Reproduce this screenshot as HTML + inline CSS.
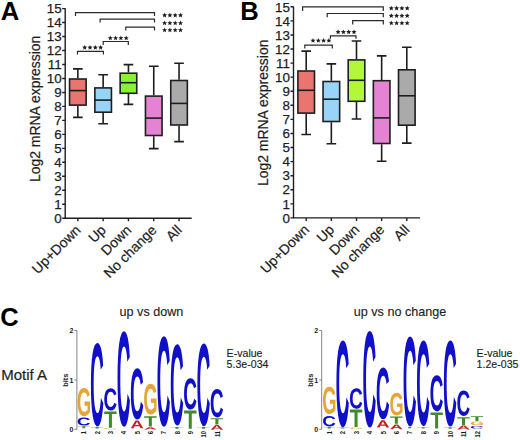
<!DOCTYPE html><html><head><meta charset="utf-8"><style>html,body{margin:0;padding:0;background:#fff;overflow:hidden}svg{display:block;font-family:"Liberation Sans",sans-serif}</style></head><body>
<svg width="520" height="440" viewBox="0 0 520 440">
<rect width="520" height="440" fill="#fff"/>
<defs>
<path id="gA" d="M1133 0 1008 360H471L346 0H51L565 1409H913L1425 0ZM739 1192 733 1170Q723 1134 709.0 1088.0Q695 1042 537 582H942L803 987L760 1123Z"/>
<path id="gC" d="M795 212Q1062 212 1166 480L1423 383Q1340 179 1179.5 79.5Q1019 -20 795 -20Q455 -20 269.5 172.5Q84 365 84 711Q84 1058 263.0 1244.0Q442 1430 782 1430Q1030 1430 1186.0 1330.5Q1342 1231 1405 1038L1145 967Q1112 1073 1015.5 1135.5Q919 1198 788 1198Q588 1198 484.5 1074.0Q381 950 381 711Q381 468 487.5 340.0Q594 212 795 212Z"/>
<path id="gG" d="M806 211Q921 211 1029.0 244.5Q1137 278 1196 330V525H852V743H1466V225Q1354 110 1174.5 45.0Q995 -20 798 -20Q454 -20 269.0 170.5Q84 361 84 711Q84 1059 270.0 1244.5Q456 1430 805 1430Q1301 1430 1436 1063L1164 981Q1120 1088 1026.0 1143.0Q932 1198 805 1198Q597 1198 489.0 1072.0Q381 946 381 711Q381 472 492.5 341.5Q604 211 806 211Z"/>
<path id="gT" d="M773 1181V0H478V1181H23V1409H1229V1181Z"/>
<polygon id="st" points="0,-2.35 0.72,-0.74 2.47,-0.55 1.16,0.63 1.53,2.35 0,1.47 -1.53,2.35 -1.16,0.63 -2.47,-0.55 -0.72,-0.74" fill="#1e1e1e"/>
</defs>
<g stroke="#1e1e1e" stroke-width="1.4" fill="none">
<path d="M65.2 8.3V218.2H191.7"/>
<path d="M62.2 218.2H65.2M62.2 204.23H65.2M62.2 190.25H65.2M62.2 176.28H65.2M62.2 162.31H65.2M62.2 148.33H65.2M62.2 134.36H65.2M62.2 120.39H65.2M62.2 106.41H65.2M62.2 92.44H65.2M62.2 78.47H65.2M62.2 64.49H65.2M62.2 50.52H65.2M62.2 36.55H65.2M62.2 22.57H65.2M62.2 8.6H65.2M77.85 218.2V221.2M103.15 218.2V221.2M128.45 218.2V221.2M153.75 218.2V221.2M179.05 218.2V221.2"/>
</g>
<g font-size="13.4" text-anchor="end" fill="#1e1e1e" stroke="#1e1e1e" stroke-width="0.25">
<text x="61.6" y="222.9">0</text>
<text x="61.6" y="208.93">1</text>
<text x="61.6" y="194.95">2</text>
<text x="61.6" y="180.98">3</text>
<text x="61.6" y="167.01">4</text>
<text x="61.6" y="153.03">5</text>
<text x="61.6" y="139.06">6</text>
<text x="61.6" y="125.09">7</text>
<text x="61.6" y="111.11">8</text>
<text x="61.6" y="97.14">9</text>
<text x="61.6" y="83.17">10</text>
<text x="61.6" y="69.19">11</text>
<text x="61.6" y="55.22">12</text>
<text x="61.6" y="41.25">13</text>
<text x="61.6" y="27.27">14</text>
<text x="61.6" y="13.3">15</text>
</g>
<text font-size="13.95" fill="#1e1e1e" stroke="#1e1e1e" stroke-width="0.2" text-anchor="middle" transform="translate(40.2,108.9) rotate(-90)">Log2 mRNA expression</text>
<g font-size="14" fill="#1e1e1e" stroke="#1e1e1e" stroke-width="0.2" text-anchor="end">
<text transform="translate(81.55,230.9) rotate(-45)">Up+Down</text>
<text transform="translate(106.85,230.9) rotate(-45)">Up</text>
<text transform="translate(132.15,230.9) rotate(-45)">Down</text>
<text transform="translate(157.45,230.9) rotate(-45)">No change</text>
<text transform="translate(182.75,230.9) rotate(-45)">All</text>
</g>
<g stroke="#1e1e1e" stroke-width="1.6">
<path d="M77.85 68.9V78.2M77.85 105.9V117.4M73.05 68.9H82.65M73.05 117.4H82.65" fill="none"/>
<rect x="69.55" y="79" width="16.6" height="26.1" fill="#ea7470"/>
<path d="M69.55 90.6H86.15" fill="none"/>
<path d="M103.15 74.7V87.1M103.15 113V123.8M98.35 74.7H107.95M98.35 123.8H107.95" fill="none"/>
<rect x="94.85" y="87.9" width="16.6" height="24.3" fill="#98d3f8"/>
<path d="M94.85 100.1H111.45" fill="none"/>
<path d="M128.45 64.6V72.4M128.45 94.1V104.4M123.65 64.6H133.25M123.65 104.4H133.25" fill="none"/>
<rect x="120.15" y="73.2" width="16.6" height="20.1" fill="#88f336"/>
<path d="M120.15 82.7H136.75" fill="none"/>
<path d="M153.75 66.2V95.3M153.75 136.3V148.6M148.95 66.2H158.55M148.95 148.6H158.55" fill="none"/>
<rect x="145.45" y="96.1" width="16.6" height="39.4" fill="#e482d4"/>
<path d="M145.45 118.1H162.05" fill="none"/>
<path d="M179.05 63.2V79.7M179.05 125.8V141.6M174.25 63.2H183.85M174.25 141.6H183.85" fill="none"/>
<rect x="170.75" y="80.5" width="16.6" height="44.5" fill="#aaaaab"/>
<path d="M170.75 103.4H187.35" fill="none"/>
</g>
<g stroke="#2a2a2a" stroke-width="1.2" fill="none">
<path d="M75.5 16V12.6H154.5V16"/>
<path d="M100.1 22.6V19.2H154.5V22.6"/>
<path d="M125.8 30.5V27.2H154.5V30.5"/>
<path d="M77.5 54.5V51.3H103.4V54.5"/>
<path d="M103.2 45V41.5H128.3V45"/>
</g>
<text x="0.7" y="19.9" font-size="25.6" font-weight="bold" fill="#000">A</text>
<use href="#st" transform="translate(164.6,15.1)"/><use href="#st" transform="translate(169.9,15.1)"/><use href="#st" transform="translate(175.2,15.1)"/><use href="#st" transform="translate(180.5,15.1)"/>
<use href="#st" transform="translate(164.6,22.9)"/><use href="#st" transform="translate(169.9,22.9)"/><use href="#st" transform="translate(175.2,22.9)"/><use href="#st" transform="translate(180.5,22.9)"/>
<use href="#st" transform="translate(164.6,29.9)"/><use href="#st" transform="translate(169.9,29.9)"/><use href="#st" transform="translate(175.2,29.9)"/><use href="#st" transform="translate(180.5,29.9)"/>
<use href="#st" transform="translate(84.7,47.3)"/><use href="#st" transform="translate(90,47.3)"/><use href="#st" transform="translate(95.3,47.3)"/><use href="#st" transform="translate(100.6,47.3)"/>
<use href="#st" transform="translate(110.3,37.9)"/><use href="#st" transform="translate(115.6,37.9)"/><use href="#st" transform="translate(120.9,37.9)"/><use href="#st" transform="translate(126.2,37.9)"/>
<g stroke="#1e1e1e" stroke-width="1.4" fill="none">
<path d="M293.5 6.5V217.9H420"/>
<path d="M290.5 217.9H293.5M290.5 203.83H293.5M290.5 189.75H293.5M290.5 175.68H293.5M290.5 161.61H293.5M290.5 147.53H293.5M290.5 133.46H293.5M290.5 119.39H293.5M290.5 105.31H293.5M290.5 91.24H293.5M290.5 77.17H293.5M290.5 63.09H293.5M290.5 49.02H293.5M290.5 34.95H293.5M290.5 20.87H293.5M290.5 6.8H293.5M306.2 217.9V220.9M331.35 217.9V220.9M356.5 217.9V220.9M381.65 217.9V220.9M406.8 217.9V220.9"/>
</g>
<g font-size="13.4" text-anchor="end" fill="#1e1e1e" stroke="#1e1e1e" stroke-width="0.25">
<text x="289.9" y="222.6">0</text>
<text x="289.9" y="208.53">1</text>
<text x="289.9" y="194.45">2</text>
<text x="289.9" y="180.38">3</text>
<text x="289.9" y="166.31">4</text>
<text x="289.9" y="152.23">5</text>
<text x="289.9" y="138.16">6</text>
<text x="289.9" y="124.09">7</text>
<text x="289.9" y="110.01">8</text>
<text x="289.9" y="95.94">9</text>
<text x="289.9" y="81.87">10</text>
<text x="289.9" y="67.79">11</text>
<text x="289.9" y="53.72">12</text>
<text x="289.9" y="39.65">13</text>
<text x="289.9" y="25.57">14</text>
<text x="289.9" y="11.5">15</text>
</g>
<text font-size="13.95" fill="#1e1e1e" stroke="#1e1e1e" stroke-width="0.2" text-anchor="middle" transform="translate(268.2,112.8) rotate(-90)">Log2 mRNA expression</text>
<g font-size="14" fill="#1e1e1e" stroke="#1e1e1e" stroke-width="0.2" text-anchor="end">
<text transform="translate(309.9,230.6) rotate(-45)">Up+Down</text>
<text transform="translate(335.05,230.6) rotate(-45)">Up</text>
<text transform="translate(360.2,230.6) rotate(-45)">Down</text>
<text transform="translate(385.35,230.6) rotate(-45)">No change</text>
<text transform="translate(410.5,230.6) rotate(-45)">All</text>
</g>
<g stroke="#1e1e1e" stroke-width="1.6">
<path d="M306.2 51.1V70.2M306.2 113.9V134.5M301.4 51.1H311M301.4 134.5H311" fill="none"/>
<rect x="297.9" y="71" width="16.6" height="42.1" fill="#ea7470"/>
<path d="M297.9 90.3H314.5" fill="none"/>
<path d="M331.35 63.9V80.7M331.35 122.3V143.7M326.55 63.9H336.15M326.55 143.7H336.15" fill="none"/>
<rect x="323.05" y="81.5" width="16.6" height="40" fill="#98d3f8"/>
<path d="M323.05 99.2H339.65" fill="none"/>
<path d="M356.5 41V59.1M356.5 102.1V119M351.7 41H361.3M351.7 119H361.3" fill="none"/>
<rect x="348.2" y="59.9" width="16.6" height="41.4" fill="#b2f73a"/>
<path d="M348.2 80.3H364.8" fill="none"/>
<path d="M381.65 55.9V79.9M381.65 144.3V161.2M376.85 55.9H386.45M376.85 161.2H386.45" fill="none"/>
<rect x="373.35" y="80.7" width="16.6" height="62.8" fill="#e482d4"/>
<path d="M373.35 117.9H389.95" fill="none"/>
<path d="M406.8 47.3V69M406.8 126V143.1M402 47.3H411.6M402 143.1H411.6" fill="none"/>
<rect x="398.5" y="69.8" width="16.6" height="55.4" fill="#aaaaab"/>
<path d="M398.5 95.8H415.1" fill="none"/>
</g>
<g stroke="#2a2a2a" stroke-width="1.2" fill="none">
<path d="M302.6 11V6.9H383.3V11"/>
<path d="M327.2 17.2V13.5H383.3V17.2"/>
<path d="M352.7 24.6V20.6H383.3V24.6"/>
<path d="M304.8 48.5V45.2H332.3V48.5"/>
<path d="M330.4 38.8V35.8H356V38.8"/>
</g>
<text x="240.3" y="20.2" font-size="25.6" font-weight="bold" fill="#000">B</text>
<use href="#st" transform="translate(391.3,8.1)"/><use href="#st" transform="translate(396.6,8.1)"/><use href="#st" transform="translate(401.9,8.1)"/><use href="#st" transform="translate(407.2,8.1)"/>
<use href="#st" transform="translate(391.3,15.6)"/><use href="#st" transform="translate(396.6,15.6)"/><use href="#st" transform="translate(401.9,15.6)"/><use href="#st" transform="translate(407.2,15.6)"/>
<use href="#st" transform="translate(391.3,22.9)"/><use href="#st" transform="translate(396.6,22.9)"/><use href="#st" transform="translate(401.9,22.9)"/><use href="#st" transform="translate(407.2,22.9)"/>
<use href="#st" transform="translate(313,40.4)"/><use href="#st" transform="translate(318.3,40.4)"/><use href="#st" transform="translate(323.6,40.4)"/><use href="#st" transform="translate(328.9,40.4)"/>
<use href="#st" transform="translate(338.1,31.8)"/><use href="#st" transform="translate(343.4,31.8)"/><use href="#st" transform="translate(348.7,31.8)"/><use href="#st" transform="translate(354,31.8)"/>
<text x="0.3" y="326.3" font-size="25.5" font-weight="bold" fill="#000">C</text>
<text x="1.2" y="379.5" font-size="15" fill="#1e1e1e" stroke="#1e1e1e" stroke-width="0.2">Motif A</text>
<g stroke="#666" stroke-width="0.8" fill="none">
<path d="M76.9 330.5V429.4"/>
<path d="M74.4 429.4H76.9M74.4 379.95H76.9M74.4 330.5H76.9"/>
</g>
<g font-size="7" font-weight="bold" fill="#222" text-anchor="end">
<text x="73.4" y="432">0</text>
<text x="73.4" y="382.55">1</text>
<text x="73.4" y="333.1">2</text>
</g>
<text font-size="7.4" font-weight="bold" fill="#222" text-anchor="middle" transform="translate(67.9,380.2) rotate(-90)">bits</text>
<use href="#gG" fill="#e6a535" transform="matrix(0.00897 0 0 -0.01952 76.85 415.91)"/>
<use href="#gC" fill="#1010c8" transform="matrix(0.00926 0 0 -0.00559 76.82 425.49)"/>
<use href="#gT" fill="#3f8a2c" transform="matrix(0.01028 0 0 -0.00142 77.36 428.3)"/>
<text font-size="7.2" font-weight="bold" fill="#1a1a1a" text-anchor="end" transform="translate(86.4,431) rotate(-90) scale(0.8,1)">1</text>
<use href="#gC" fill="#1010c8" transform="matrix(0.00926 0 0 -0.05752 90.13 425.25)"/>
<use href="#gT" fill="#3f8a2c" transform="matrix(0.01028 0 0 -0.00106 90.67 428.5)"/>
<text font-size="7.2" font-weight="bold" fill="#1a1a1a" text-anchor="end" transform="translate(99.71,431) rotate(-90) scale(0.8,1)">2</text>
<use href="#gC" fill="#1010c8" transform="matrix(0.00926 0 0 -0.01538 103.44 410.19)"/>
<use href="#gT" fill="#3f8a2c" transform="matrix(0.01028 0 0 -0.01164 103.98 427.8)"/>
<use href="#gG" fill="#e6a535" transform="matrix(0.00897 0 0 -0.00069 103.47 429.19)"/>
<text font-size="7.2" font-weight="bold" fill="#1a1a1a" text-anchor="end" transform="translate(113.02,431) rotate(-90) scale(0.8,1)">3</text>
<use href="#gC" fill="#1010c8" transform="matrix(0.00926 0 0 -0.06593 116.75 425.48)"/>
<text font-size="7.2" font-weight="bold" fill="#1a1a1a" text-anchor="end" transform="translate(126.33,431) rotate(-90) scale(0.8,1)">4</text>
<use href="#gC" fill="#1010c8" transform="matrix(0.00926 0 0 -0.03531 130.06 418.79)"/>
<use href="#gA" fill="#c81e1e" transform="matrix(0.00902 0 0 -0.00554 130.38 428.2)"/>
<text font-size="7.2" font-weight="bold" fill="#1a1a1a" text-anchor="end" transform="translate(139.64,431) rotate(-90) scale(0.8,1)">5</text>
<use href="#gG" fill="#e6a535" transform="matrix(0.00897 0 0 -0.02124 143.4 414.18)"/>
<use href="#gT" fill="#3f8a2c" transform="matrix(0.01028 0 0 -0.00724 143.91 426.4)"/>
<use href="#gA" fill="#c81e1e" transform="matrix(0.00902 0 0 -0.00170 143.69 429.6)"/>
<text font-size="7.2" font-weight="bold" fill="#1a1a1a" text-anchor="end" transform="translate(152.95,431) rotate(-90) scale(0.8,1)">6</text>
<use href="#gC" fill="#1010c8" transform="matrix(0.00926 0 0 -0.06241 156.68 425.55)"/>
<text font-size="7.2" font-weight="bold" fill="#1a1a1a" text-anchor="end" transform="translate(166.26,431) rotate(-90) scale(0.8,1)">7</text>
<use href="#gC" fill="#1010c8" transform="matrix(0.00926 0 0 -0.05614 169.99 424.48)"/>
<use href="#gT" fill="#3f8a2c" transform="matrix(0.01028 0 0 -0.00128 170.53 428.8)"/>
<text font-size="7.2" font-weight="bold" fill="#1a1a1a" text-anchor="end" transform="translate(179.57,431) rotate(-90) scale(0.8,1)">8</text>
<use href="#gC" fill="#1010c8" transform="matrix(0.00926 0 0 -0.02159 183.3 409.17)"/>
<use href="#gT" fill="#3f8a2c" transform="matrix(0.01028 0 0 -0.01306 183.84 428.8)"/>
<text font-size="7.2" font-weight="bold" fill="#1a1a1a" text-anchor="end" transform="translate(192.88,431) rotate(-90) scale(0.8,1)">9</text>
<use href="#gC" fill="#1010c8" transform="matrix(0.00926 0 0 -0.05710 196.61 425.06)"/>
<use href="#gT" fill="#3f8a2c" transform="matrix(0.01028 0 0 -0.00128 197.15 428.8)"/>
<text font-size="7.2" font-weight="bold" fill="#1a1a1a" text-anchor="end" transform="translate(206.19,431) rotate(-90) scale(0.8,1)">10</text>
<use href="#gC" fill="#1010c8" transform="matrix(0.00926 0 0 -0.01966 209.92 417.01)"/>
<use href="#gT" fill="#3f8a2c" transform="matrix(0.01028 0 0 -0.00447 210.46 424.5)"/>
<use href="#gA" fill="#c81e1e" transform="matrix(0.00902 0 0 -0.00334 210.24 429.7)"/>
<text font-size="7.2" font-weight="bold" fill="#1a1a1a" text-anchor="end" transform="translate(219.5,431) rotate(-90) scale(0.8,1)">11</text>
<g font-size="10.6" fill="#1e1e1e" stroke="#1e1e1e" stroke-width="0.15">
<text x="226.6" y="357">E-value</text>
<text x="226.6" y="368.4">5.3e-034</text>
</g>
<text x="119.6" y="316.2" font-size="12.6" fill="#1e1e1e" stroke="#1e1e1e" stroke-width="0.15">up vs down</text>
<g stroke="#666" stroke-width="0.8" fill="none">
<path d="M321.7 330.5V429.4"/>
<path d="M319.2 429.4H321.7M319.2 379.95H321.7M319.2 330.5H321.7"/>
</g>
<g font-size="7" font-weight="bold" fill="#222" text-anchor="end">
<text x="318.2" y="432">0</text>
<text x="318.2" y="382.55">1</text>
<text x="318.2" y="333.1">2</text>
</g>
<text font-size="7.4" font-weight="bold" fill="#222" text-anchor="middle" transform="translate(312.7,380.2) rotate(-90)">bits</text>
<use href="#gG" fill="#e6a535" transform="matrix(0.00897 0 0 -0.01876 322.25 413.62)"/>
<use href="#gC" fill="#1010c8" transform="matrix(0.00926 0 0 -0.00717 322.22 426.26)"/>
<use href="#gT" fill="#3f8a2c" transform="matrix(0.01028 0 0 -0.00106 322.76 428.5)"/>
<text font-size="7.2" font-weight="bold" fill="#1a1a1a" text-anchor="end" transform="translate(331.8,431) rotate(-90) scale(0.8,1)">1</text>
<use href="#gC" fill="#1010c8" transform="matrix(0.00926 0 0 -0.05979 335.65 426)"/>
<use href="#gT" fill="#3f8a2c" transform="matrix(0.01028 0 0 -0.00071 336.19 428.6)"/>
<text font-size="7.2" font-weight="bold" fill="#1a1a1a" text-anchor="end" transform="translate(345.23,431) rotate(-90) scale(0.8,1)">2</text>
<use href="#gC" fill="#1010c8" transform="matrix(0.00926 0 0 -0.01414 349.08 408.52)"/>
<use href="#gT" fill="#3f8a2c" transform="matrix(0.01028 0 0 -0.01235 349.62 427)"/>
<use href="#gG" fill="#e6a535" transform="matrix(0.00897 0 0 -0.00097 349.11 428.98)"/>
<text font-size="7.2" font-weight="bold" fill="#1a1a1a" text-anchor="end" transform="translate(358.66,431) rotate(-90) scale(0.8,1)">3</text>
<use href="#gC" fill="#1010c8" transform="matrix(0.00926 0 0 -0.06655 362.51 426.17)"/>
<text font-size="7.2" font-weight="bold" fill="#1a1a1a" text-anchor="end" transform="translate(372.09,431) rotate(-90) scale(0.8,1)">4</text>
<use href="#gC" fill="#1010c8" transform="matrix(0.00926 0 0 -0.03579 375.94 418.58)"/>
<use href="#gA" fill="#c81e1e" transform="matrix(0.00902 0 0 -0.00525 376.26 427.6)"/>
<text font-size="7.2" font-weight="bold" fill="#1a1a1a" text-anchor="end" transform="translate(385.52,431) rotate(-90) scale(0.8,1)">5</text>
<use href="#gG" fill="#e6a535" transform="matrix(0.00897 0 0 -0.01572 389.4 415.29)"/>
<use href="#gT" fill="#3f8a2c" transform="matrix(0.01028 0 0 -0.00511 389.91 423.8)"/>
<use href="#gA" fill="#c81e1e" transform="matrix(0.00902 0 0 -0.00334 389.69 429.3)"/>
<text font-size="7.2" font-weight="bold" fill="#1a1a1a" text-anchor="end" transform="translate(398.95,431) rotate(-90) scale(0.8,1)">6</text>
<use href="#gC" fill="#1010c8" transform="matrix(0.00926 0 0 -0.06207 402.8 425.16)"/>
<use href="#gT" fill="#3f8a2c" transform="matrix(0.01028 0 0 -0.00092 403.34 428.2)"/>
<text font-size="7.2" font-weight="bold" fill="#1a1a1a" text-anchor="end" transform="translate(412.38,431) rotate(-90) scale(0.8,1)">7</text>
<use href="#gC" fill="#1010c8" transform="matrix(0.00926 0 0 -0.05903 416.23 425.02)"/>
<use href="#gT" fill="#3f8a2c" transform="matrix(0.01028 0 0 -0.00099 416.77 428.6)"/>
<text font-size="7.2" font-weight="bold" fill="#1a1a1a" text-anchor="end" transform="translate(425.81,431) rotate(-90) scale(0.8,1)">8</text>
<use href="#gC" fill="#1010c8" transform="matrix(0.00926 0 0 -0.02497 429.66 410.9)"/>
<use href="#gT" fill="#3f8a2c" transform="matrix(0.01028 0 0 -0.01136 430.2 428.4)"/>
<text font-size="7.2" font-weight="bold" fill="#1a1a1a" text-anchor="end" transform="translate(439.24,431) rotate(-90) scale(0.8,1)">9</text>
<use href="#gC" fill="#1010c8" transform="matrix(0.00926 0 0 -0.05938 443.09 425.41)"/>
<use href="#gT" fill="#3f8a2c" transform="matrix(0.01028 0 0 -0.00106 443.63 428.8)"/>
<text font-size="7.2" font-weight="bold" fill="#1a1a1a" text-anchor="end" transform="translate(452.67,431) rotate(-90) scale(0.8,1)">10</text>
<use href="#gC" fill="#1010c8" transform="matrix(0.00926 0 0 -0.01752 456.52 415.55)"/>
<use href="#gT" fill="#3f8a2c" transform="matrix(0.01028 0 0 -0.00554 457.06 425)"/>
<use href="#gA" fill="#c81e1e" transform="matrix(0.00902 0 0 -0.00277 456.84 429.4)"/>
<text font-size="7.2" font-weight="bold" fill="#1a1a1a" text-anchor="end" transform="translate(466.1,431) rotate(-90) scale(0.8,1)">11</text>
<use href="#gT" fill="#3f8a2c" transform="matrix(0.01028 0 0 -0.00334 470.49 420.9)"/>
<use href="#gG" fill="#e6a535" transform="matrix(0.00897 0 0 -0.00255 469.98 425.15)"/>
<use href="#gC" fill="#1010c8" transform="matrix(0.00926 0 0 -0.00186 469.95 428.56)"/>
<text font-size="7.2" font-weight="bold" fill="#1a1a1a" text-anchor="end" transform="translate(479.53,431) rotate(-90) scale(0.8,1)">12</text>
<g font-size="10.6" fill="#1e1e1e" stroke="#1e1e1e" stroke-width="0.15">
<text x="476.6" y="357">E-value</text>
<text x="476.6" y="368.4">1.2e-035</text>
</g>
<text x="353.8" y="316.2" font-size="12.6" fill="#1e1e1e" stroke="#1e1e1e" stroke-width="0.15">up vs no change</text>
</svg></body></html>
